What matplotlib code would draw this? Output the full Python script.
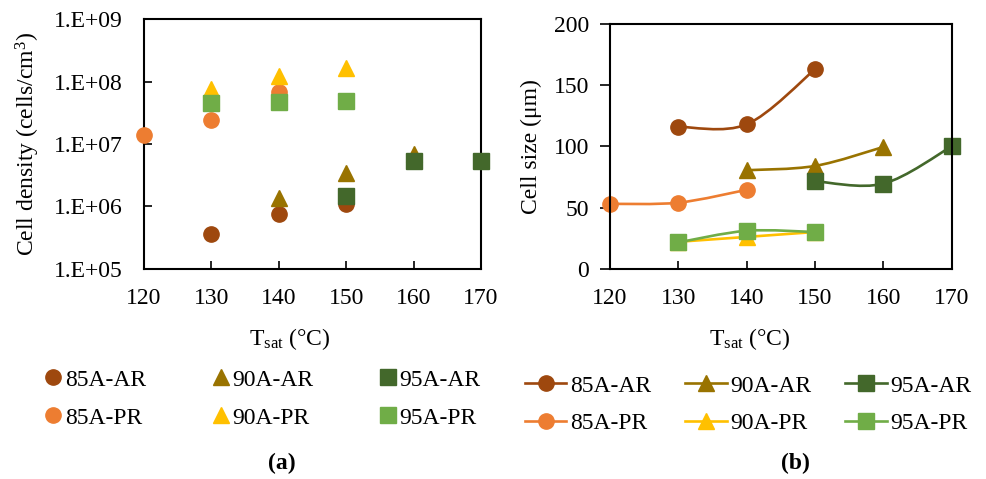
import matplotlib
matplotlib.use("Agg")
import matplotlib.pyplot as plt
from matplotlib.path import Path
from matplotlib.patches import PathPatch
from matplotlib.lines import Line2D

plt.rcParams['font.family'] = ['Liberation Serif', 'DejaVu Serif']
plt.rcParams['mathtext.fontset'] = 'custom'
plt.rcParams['mathtext.rm'] = 'Liberation Serif'
plt.rcParams['mathtext.it'] = 'Liberation Serif:italic'
plt.rcParams['font.size'] = 17

# series names, colours, markers
names = ["85A-AR", "85A-PR", "90A-AR", "90A-PR", "95A-AR", "95A-PR"]
colors = ["#9E480E", "#ED7D31", "#997300", "#FFC000", "#43682B", "#70AD47"]
markers = ["o", "o", "^", "^", "s", "s"]

# saturation temperature for each series
t_sat = [
    [130, 140, 150],
    [120, 130, 140],
    [140, 150, 160],
    [130, 140, 150],
    [150, 160, 170],
    [130, 140, 150],
]

# (a) cell density, cells/cm3
density = [
    [3.6e5, 7.5e5, 1.1e6],
    [1.4e7, 2.4e7, 6.9e7],
    [1.35e6, 3.4e6, 7.0e6],
    [7.5e7, 1.23e8, 1.66e8],
    [1.47e6, 5.3e6, 5.3e6],
    [4.6e7, 4.7e7, 4.9e7],
]

# (b) cell size, um
size = [
    [116, 118, 163],
    [53, 54, 64.5],
    [80.5, 84, 99.5],
    [22, 26, 30],
    [71.5, 69.5, 100],
    [21.5, 31, 30],
]

x_ticks = [120, 130, 140, 150, 160, 170]
dens_ticks = [1e5, 1e6, 1e7, 1e8, 1e9]
dens_labels = ["1.E+05", "1.E+06", "1.E+07", "1.E+08", "1.E+09"]
size_ticks = [0, 50, 100, 150, 200]


def smooth_path(xs, ys):
    # excel-like smoothed line through the points (cubic bezier)
    verts = [(xs[0], ys[0])]
    codes = [Path.MOVETO]
    n = len(xs)
    for i in range(n - 1):
        a = i - 1 if i > 0 else i
        b = i + 2 if i + 2 < n else i + 1
        c1 = (xs[i] + (xs[i + 1] - xs[a]) / 6, ys[i] + (ys[i + 1] - ys[a]) / 6)
        c2 = (xs[i + 1] - (xs[b] - xs[i]) / 6, ys[i + 1] - (ys[b] - ys[i]) / 6)
        verts += [c1, c2, (xs[i + 1], ys[i + 1])]
        codes += [Path.CURVE4] * 3
    return Path(verts, codes)


fig = plt.figure(figsize=(9.86, 4.79), dpi=100)
ax1 = fig.add_axes([0.1460, 0.4390, 0.3418, 0.5207])
ax2 = fig.add_axes([0.6187, 0.4390, 0.3465, 0.5109])

# (a)
for i in range(len(names)):
    ax1.plot(t_sat[i], density[i], linestyle="none", marker=markers[i],
             ms=11, color=colors[i], mec=colors[i], label=names[i],
             clip_on=False, zorder=3)
ax1.set_yscale("log")
ax1.set_xlim(120, 170)
ax1.set_ylim(1e5, 1e9)
ax1.set_xticks(x_ticks)
ax1.set_yticks(dens_ticks)
ax1.set_yticklabels(dens_labels)
ax1.minorticks_off()
ax1.tick_params(axis="y", direction="in", length=6, width=1.2, pad=15)
ax1.tick_params(axis="x", direction="in", length=6, width=1.2, pad=14)
ax1.set_ylabel("Cell density (cells/cm$^3$)")
ax1.yaxis.set_label_coords(-0.303, 0.5)
ax1.set_xlabel(r"T$_{\rm sat}$ (°C)")
ax1.xaxis.set_label_coords(0.433, -0.23)

# (b)
for i in range(len(names)):
    ax2.add_patch(PathPatch(smooth_path(t_sat[i], size[i]), fill=False,
                            edgecolor=colors[i], lw=1.9, zorder=2 + i * 0.1))
    ax2.plot(t_sat[i], size[i], linestyle="none", marker=markers[i],
             ms=11, color=colors[i], mec=colors[i], clip_on=False,
             zorder=2.05 + i * 0.1)
ax2.set_xlim(120, 170)
ax2.set_ylim(0, 200)
ax2.set_xticks(x_ticks)
ax2.set_yticks(size_ticks)
ax2.tick_params(axis="y", direction="out", length=7, width=1.2, pad=8)
ax2.tick_params(axis="x", direction="in", length=6, width=1.2, pad=14)
ax2.set_ylabel("Cell size (μm)")
ax2.yaxis.set_label_coords(-0.2, 0.5)
ax2.set_xlabel(r"T$_{\rm sat}$ (°C)")
ax2.xaxis.set_label_coords(0.41, -0.235)

for ax in (ax1, ax2):
    for s in ax.spines.values():
        s.set_linewidth(1.5)

# legends
h1 = [Line2D([], [], linestyle="none", marker=markers[i], ms=11,
             color=colors[i]) for i in range(len(names))]
fig.legend(h1, names, ncol=3, loc="upper left", frameon=False,
           bbox_to_anchor=(45 / 986, 1 - 369 / 479), borderpad=0,
           borderaxespad=0, handlelength=0.7, handletextpad=0.15,
           columnspacing=2.8, labelspacing=0.7, fontsize=17)

h2 = [Line2D([], [], lw=1.9, marker=markers[i], ms=11, color=colors[i])
      for i in range(len(names))]
fig.legend(h2, names, ncol=3, loc="upper left", frameon=False,
           bbox_to_anchor=(525 / 986, 1 - 375 / 479), borderpad=0,
           borderaxespad=0, handlelength=1.75, handletextpad=0.15,
           columnspacing=1.45, labelspacing=0.67, fontsize=17)

fig.text(282 / 986, 1 - 463 / 479, "(a)", ha="center", va="center",
         fontweight="bold")
fig.text(795 / 986, 1 - 463 / 479, "(b)", ha="center", va="center",
         fontweight="bold")

fig.savefig("out.png", dpi=100)
